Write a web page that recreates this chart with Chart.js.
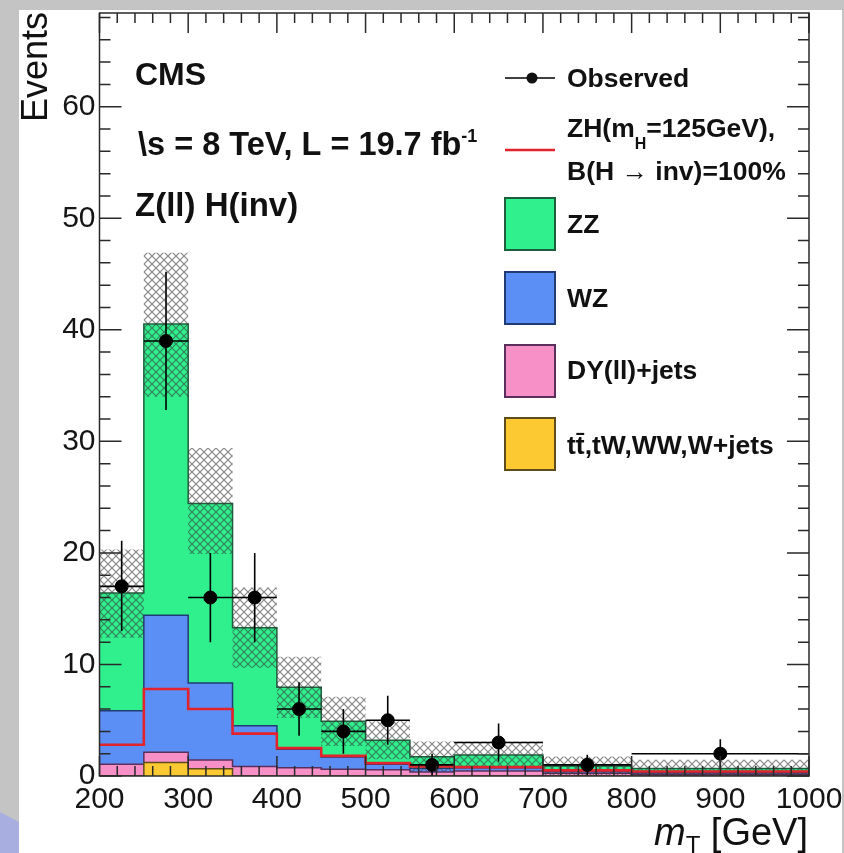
<!DOCTYPE html>
<html><head><meta charset="utf-8">
<script src="https://cdn.jsdelivr.net/npm/chart.js@4.4.1/dist/chart.umd.min.js"></script>
<style>html,body{margin:0;padding:0;background:#c6c6c6;overflow:hidden}#wrap{position:absolute;left:0;top:0;width:844px;height:853px}</style>
</head><body><div id="wrap"><canvas id="c" width="844" height="853"></canvas></div>
<script>
// ---- data ----
const binEdges   = [200, 250, 300, 350, 400, 450, 500, 550, 600, 700, 800, 1000];
const ttOther    = [0.0, 1.2, 0.65, 0.0, 0.0, 0.0, 0.0, 0.0, 0.0, 0.0, 0.0];
const dyJets     = [1.05, 0.92, 0.78, 0.85, 0.75, 0.6, 0.55, 0.35, 0.45, 0.25, 0.15];
const wzBkg      = [4.8, 12.3, 6.9, 3.65, 1.65, 1.1, 0.5, 0.35, 0.3, 0.15, 0.15];
const zzBkg      = [10.55, 26.1, 16.1, 8.8, 5.55, 3.2, 2.15, 1.03, 1.13, 0.5, 0.38];
const zhSignal   = [2.8, 7.8, 6.0, 3.8, 2.5, 1.8, 1.15, 0.85, 0.8, 0.5, 0.4];
const bandLow    = [12.4, 34.0, 19.9, 9.7, 5.2, 2.7, 1.5, 0.4, 0.7, 0.1, 0.0];
const bandHigh   = [20.3, 46.9, 29.4, 16.9, 10.7, 7.1, 4.9, 3.1, 3.1, 1.75, 1.45];
const observed   = [17, 39, 16, 16, 6, 4, 5, 1, 3, 1, 2];
const obsErrLow  = [4.0, 6.2, 4.0, 4.0, 2.4, 2.0, 2.2, 1.0, 1.7, 0.9, 1.3];
const obsErrHigh = [4.1, 6.2, 4.0, 4.0, 2.4, 2.0, 2.2, 1.0, 1.7, 0.9, 1.3];
const xTickLabels = [200, 300, 400, 500, 600, 700, 800, 900, 1000];
const yTickLabels = [0, 10, 20, 30, 40, 50, 60];
const legendLabels = ['Observed', 'ZH(m', 'H', '=125GeV),', 'B(H \u2192 inv)=100%', 'ZZ', 'WZ', 'DY(ll)+jets', 'tt\u0304,tW,WW,W+jets'];

// ---- styles ----
const FONT = '"Liberation Sans", Arial, Helvetica, sans-serif';
const C = {
  zz: '#30f08e', zzEdge: '#1d5f3c',
  wz: '#5c8ff5', wzEdge: '#203c72',
  dy: '#f890c8', dyEdge: '#5a2f5e',
  tt: '#fcc932', ttEdge: '#5e4c1c',
  red: '#e2232b'
};

const hatchCanvas = document.createElement('canvas');
hatchCanvas.width = 8; hatchCanvas.height = 8;
const hc = hatchCanvas.getContext('2d');
hc.strokeStyle = 'rgba(55,55,55,0.6)'; hc.lineWidth = 1.2;
hc.beginPath(); hc.moveTo(-1,-1); hc.lineTo(9,9); hc.moveTo(-1,9); hc.lineTo(9,-1); hc.stroke();
const hatch = document.getElementById('c').getContext('2d').createPattern(hatchCanvas, 'repeat');

function stepPoints(vals) {
  const pts = vals.map((v, i) => ({x: binEdges[i], y: v}));
  pts.push({x: binEdges[binEdges.length - 1], y: vals[vals.length - 1]});
  return pts;
}
const stepBase = {type: 'line', stepped: 'before', pointRadius: 0, pointHoverRadius: 0, borderWidth: 1.5, tension: 0};

function drawRich(ctx, x, y, segs) {
  let cx = x;
  segs.forEach(s => { ctx.font = s.font; ctx.fillText(s.t, cx, y + (s.dy || 0)); cx += ctx.measureText(s.t).width; });
  return cx;
}
function richWidth(ctx, segs) {
  let w = 0; segs.forEach(s => { ctx.font = s.font; w += ctx.measureText(s.t).width; }); return w;
}

const decor = {
  id: 'decor',
  beforeDraw(chart) {
    const ctx = chart.ctx;
    ctx.save();
    ctx.fillStyle = '#c4c4c4'; ctx.fillRect(0, 0, 844, 853);
    ctx.fillStyle = '#a9aee0';
    ctx.beginPath(); ctx.moveTo(0, 812); ctx.lineTo(19, 822); ctx.lineTo(19, 853); ctx.lineTo(0, 853); ctx.closePath(); ctx.fill();
    ctx.fillStyle = '#ffffff'; ctx.fillRect(19, 10, 823, 843);
    ctx.restore();
  },
  afterDatasetsDraw(chart) {
    const {ctx, chartArea: a, scales: {x, y}} = chart;
    ctx.save();
    // observed error bars
    ctx.strokeStyle = '#000'; ctx.lineWidth = 1.6;
    ctx.beginPath();
    observed.forEach((v, i) => {
      const cx = x.getPixelForValue((binEdges[i] + binEdges[i + 1]) / 2);
      const py = y.getPixelForValue(v);
      ctx.moveTo(x.getPixelForValue(binEdges[i]), py); ctx.lineTo(x.getPixelForValue(binEdges[i + 1]), py);
      ctx.moveTo(cx, y.getPixelForValue(Math.max(0, v - obsErrLow[i]))); ctx.lineTo(cx, y.getPixelForValue(v + obsErrHigh[i]));
    });
    ctx.stroke();
    // inward ticks + frame
    ctx.strokeStyle = '#2a2a2a'; ctx.lineWidth = 1.5;
    ctx.beginPath();
    for (let v = x.min; v <= x.max; v += 20) {
      const px = x.getPixelForValue(v), L = (v % 100 === 0) ? 20 : 10;
      ctx.moveTo(px, a.bottom); ctx.lineTo(px, a.bottom - L);
      ctx.moveTo(px, a.top); ctx.lineTo(px, a.top + L);
    }
    for (let v = 0; v <= y.max; v += 2) {
      const py = y.getPixelForValue(v), L = (v % 10 === 0) ? 22 : 11;
      ctx.moveTo(a.left, py); ctx.lineTo(a.left + L, py);
      ctx.moveTo(a.right, py); ctx.lineTo(a.right - L, py);
    }
    ctx.stroke();
    ctx.strokeRect(a.left, a.top, a.right - a.left, a.bottom - a.top);
    ctx.restore();
  },
  afterDraw(chart) {
    const ctx = chart.ctx;
    ctx.save();
    ctx.fillStyle = '#111';
    ctx.textBaseline = 'alphabetic'; ctx.textAlign = 'left';
    const B = s => 'bold ' + s + 'px ' + FONT;
    // header texts
    drawRich(ctx, 135, 85, [{t: 'CMS', font: B(32)}]);
    drawRich(ctx, 138, 155, [{t: '\\s = 8 TeV, L = 19.7 fb', font: B(32.5)}, {t: '-1', font: B(18), dy: -13}]);
    drawRich(ctx, 135, 216, [{t: 'Z(ll) H(inv)', font: B(33)}]);
    // legend
    const lx0 = 505, lx1 = 555, tx = 567;
    ctx.strokeStyle = '#000'; ctx.lineWidth = 1.5;
    ctx.beginPath(); ctx.moveTo(lx0, 78); ctx.lineTo(lx1, 78); ctx.stroke();
    ctx.beginPath(); ctx.arc(532, 78, 5.5, 0, Math.PI * 2); ctx.fill();
    drawRich(ctx, tx, 87, [{t: legendLabels[0], font: B(26.5)}]);
    ctx.strokeStyle = C.red; ctx.lineWidth = 2.5;
    ctx.beginPath(); ctx.moveTo(lx0, 150); ctx.lineTo(lx1, 150); ctx.stroke();
    drawRich(ctx, tx, 137, [{t: legendLabels[1], font: B(26.5)}, {t: legendLabels[2], font: B(16), dy: 12}, {t: legendLabels[3], font: B(26.5)}]);
    drawRich(ctx, tx, 180, [{t: legendLabels[4], font: B(26.5)}]);
    const boxes = [[198, C.zz, C.zzEdge, 5, 233], [272, C.wz, C.wzEdge, 6, 307], [345, C.dy, C.dyEdge, 7, 379], [418, C.tt, C.ttEdge, 8, 454]];
    boxes.forEach(([top, fill, edge, li, base]) => {
      ctx.fillStyle = fill; ctx.fillRect(lx0, top, lx1 - lx0, 52);
      ctx.strokeStyle = edge; ctx.lineWidth = 2; ctx.strokeRect(lx0, top, lx1 - lx0, 52);
      ctx.fillStyle = '#111';
      drawRich(ctx, tx, base, [{t: legendLabels[li], font: B(26.5)}]);
    });
    // axis titles
    ctx.save();
    ctx.translate(47, 12); ctx.rotate(-Math.PI / 2);
    ctx.textAlign = 'right'; ctx.font = '36px ' + FONT;
    ctx.fillText('Events', 0, 0);
    ctx.restore();
    const segs = [{t: 'm', font: 'italic 38px ' + FONT}, {t: 'T', font: '24px ' + FONT, dy: 8}, {t: ' [GeV]', font: '38px ' + FONT}];
    drawRich(ctx, 808 - richWidth(ctx, segs), 845, segs);
    ctx.restore();
  }
};

const tickFont = {family: FONT, size: 30};
new Chart(document.getElementById('c'), {
  type: 'line',
  data: {
    datasets: [
      {...stepBase, label: 'tt\u0304,tW,WW,W+jets', data: stepPoints(ttOther), stack: 'mc', fill: 'origin', backgroundColor: C.tt, borderColor: C.ttEdge, order: 10},
      {...stepBase, label: 'DY(ll)+jets', data: stepPoints(dyJets), stack: 'mc', fill: '-1', backgroundColor: C.dy, borderColor: C.dyEdge, order: 10},
      {...stepBase, label: 'WZ', data: stepPoints(wzBkg), stack: 'mc', fill: '-1', backgroundColor: C.wz, borderColor: C.wzEdge, order: 10},
      {...stepBase, label: 'ZZ', data: stepPoints(zzBkg), stack: 'mc', fill: '-1', backgroundColor: C.zz, borderColor: C.zzEdge, order: 10},
      {...stepBase, label: 'unc low', data: stepPoints(bandLow), fill: false, borderColor: 'rgba(0,0,0,0)', borderWidth: 0, order: 6},
      {...stepBase, label: 'unc high', data: stepPoints(bandHigh), fill: '-1', backgroundColor: hatch, borderColor: 'rgba(0,0,0,0)', borderWidth: 0, order: 5},
      {...stepBase, label: 'ZH(mH=125GeV), B(H\u2192inv)=100%', data: stepPoints(zhSignal), fill: false, borderColor: C.red, borderWidth: 2.6, order: 3},
      {type: 'line', label: 'Observed', data: observed.map((v, i) => ({x: (binEdges[i] + binEdges[i + 1]) / 2, y: v})), showLine: false, pointRadius: 6.5, pointHoverRadius: 6.5, pointBackgroundColor: '#000', pointBorderColor: '#000', order: 1}
    ]
  },
  options: {
    responsive: false, animation: false, events: [],
    layout: {padding: {left: 19.5, top: 13, right: 35, bottom: 27}},
    plugins: {legend: {display: false}, tooltip: {enabled: false}},
    scales: {
      x: {type: 'linear', min: 200, max: 1000,
        afterBuildTicks: s => { s.ticks = xTickLabels.map(v => ({value: v})); },
        afterFit: s => { s.height = 50; s.paddingLeft = 0; s.paddingRight = 0; },
        grid: {display: false, drawTicks: false}, border: {display: false},
        ticks: {font: tickFont, color: '#151515', padding: 6, maxRotation: 0, autoSkip: false, callback: v => String(v)}},
      y: {type: 'linear', min: 0, max: 68.4,
        afterBuildTicks: s => { s.ticks = yTickLabels.map(v => ({value: v})); },
        afterFit: s => { s.width = 80; s.paddingTop = 0; s.paddingBottom = 0; },
        grid: {display: false, drawTicks: false}, border: {display: false},
        ticks: {font: tickFont, color: '#151515', padding: 4, callback: v => String(v)}}
    }
  },
  plugins: [decor]
});
</script></body></html>
